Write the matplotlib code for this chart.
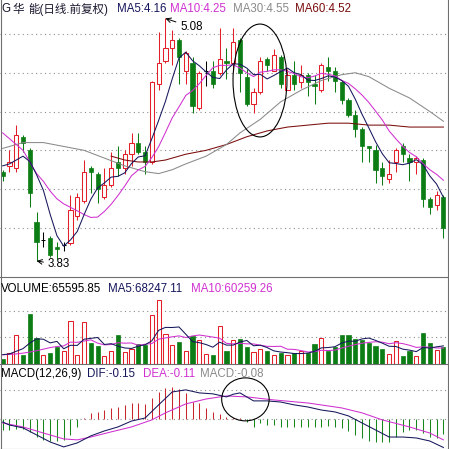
import numpy as np
import pandas as pd
import matplotlib
matplotlib.use("Agg")
import matplotlib.pyplot as plt
from matplotlib.patches import Rectangle, Ellipse
from matplotlib.lines import Line2D

plt.rcParams['font.family'] = ['Liberation Sans', 'Noto Sans CJK SC']

# daily bars, oldest first (qfq prices)
opens = [4.29, 4.32, 4.31, 4.47, 4.40, 4.03, 3.94, 3.95, 3.90, 3.91,
         3.92, 4.06, 4.14, 4.31, 4.28, 4.16, 4.22, 4.34, 4.31, 4.38,
         4.44, 4.39, 4.34, 4.74, 4.86, 4.93, 4.97, 4.81, 4.85, 4.62,
         4.81, 4.81, 4.80, 4.86, 4.85, 4.97, 4.78, 4.64, 4.70, 4.87,
         4.81, 4.88, 4.71, 4.79, 4.75, 4.79, 4.74, 4.71, 4.83, 4.81,
         4.75, 4.66, 4.58, 4.51, 4.42, 4.40, 4.31, 4.25, 4.34, 4.42,
         4.36, 4.34, 4.35, 4.15, 4.12, 4.16]
highs = [4.30, 4.40, 4.53, 4.48, 4.41, 4.08, 3.98, 3.96, 3.93, 3.93,
         4.17, 4.18, 4.35, 4.32, 4.29, 4.31, 4.39, 4.42, 4.40, 4.49,
         4.49, 4.42, 4.76, 5.01, 5.08, 5.02, 4.98, 4.91, 4.88, 4.81,
         4.86, 4.86, 5.03, 4.93, 5.03, 4.98, 4.82, 4.72, 4.88, 4.88,
         4.92, 4.89, 4.82, 4.86, 4.84, 4.80, 4.79, 4.85, 4.88, 4.83,
         4.76, 4.67, 4.61, 4.52, 4.42, 4.43, 4.34, 4.35, 4.41, 4.44,
         4.38, 4.37, 4.36, 4.16, 4.19, 4.17]
lows = [4.24, 4.29, 4.29, 4.39, 4.11, 3.83, 3.90, 3.85, 3.84, 3.88,
        3.91, 4.04, 4.13, 4.18, 4.13, 4.15, 4.21, 4.27, 4.28, 4.32,
        4.38, 4.28, 4.33, 4.71, 4.85, 4.84, 4.74, 4.74, 4.59, 4.61,
        4.73, 4.72, 4.79, 4.77, 4.81, 4.70, 4.63, 4.59, 4.69, 4.81,
        4.81, 4.72, 4.71, 4.71, 4.72, 4.68, 4.64, 4.70, 4.76, 4.70,
        4.64, 4.57, 4.47, 4.34, 4.34, 4.23, 4.22, 4.23, 4.29, 4.34,
        4.24, 4.28, 4.11, 4.07, 4.09, 3.95]
closes = [4.27, 4.34, 4.48, 4.44, 4.18, 3.93, 3.94, 3.86, 3.89, 3.91,
          4.09, 4.16, 4.29, 4.29, 4.20, 4.22, 4.31, 4.31, 4.38, 4.44,
          4.39, 4.34, 4.75, 4.85, 4.93, 4.97, 4.88, 4.90, 4.63, 4.80,
          4.81, 4.74, 4.87, 4.85, 4.96, 4.80, 4.64, 4.70, 4.86, 4.84,
          4.89, 4.74, 4.79, 4.74, 4.79, 4.75, 4.73, 4.84, 4.81, 4.76,
          4.66, 4.58, 4.51, 4.42, 4.41, 4.30, 4.27, 4.28, 4.40, 4.38,
          4.34, 4.36, 4.15, 4.11, 4.17, 4.00]
volumes = [20000, 41500, 110000, 35000, 189000, 98000, 35000, 41500, 63000, 50000,
           163000, 33000, 158000, 79000, 67000, 31000, 48000, 111000, 45000, 58000,
           75000, 73000, 186000, 243000, 113000, 73000, 83000, 50000, 104000, 92000,
           38000, 33000, 145000, 48000, 92000, 96000, 63000, 45000, 58000, 48000,
           33000, 41500, 33000, 41500, 48000, 41500, 75000, 98000, 48000, 63000,
           111000, 111000, 96000, 92000, 79000, 67000, 58300, 38000, 88000, 29000,
           48000, 30200, 116000, 78000, 51500, 65595.85]

# moving averages whose window reaches back before the first bar shown
ma5_head = [4.32, 4.33, 4.35, 4.37]
ma10_head = [4.49, 4.46, 4.43, 4.40, 4.34, 4.28, 4.24, 4.19, 4.15]
ma30_days = [0, 3, 6, 9, 12, 15, 18, 21, 23, 25, 27, 30, 33, 35, 38, 41, 44,
             47, 50, 52, 54, 57, 60, 63, 65]
ma30 = [4.41, 4.44, 4.44, 4.42, 4.40, 4.36, 4.32, 4.29, 4.28, 4.30, 4.33, 4.37,
        4.43, 4.49, 4.56, 4.65, 4.71, 4.76, 4.79, 4.80, 4.78, 4.72, 4.67, 4.60, 4.55]
ma60_days = [16, 18, 20, 22, 24, 27, 30, 33, 36, 39, 42, 45, 48, 51, 54, 57, 60, 63, 65]
ma60 = [4.37, 4.35, 4.34, 4.34, 4.35, 4.38, 4.40, 4.43, 4.47, 4.50, 4.52, 4.53,
        4.54, 4.54, 4.53, 4.53, 4.52, 4.52, 4.52]
vol_ma5_head = [35000, 38000, 48000, 58000]
vol_ma10_head = [35000, 36000, 38000, 41000, 45000, 50000, 56000, 62000, 66000]

# MACD(12,26,9)
dif_days = [0, 1, 3, 5, 7, 9, 11, 13, 15, 17, 19, 21, 23, 25, 27, 29, 31, 33, 34,
            35, 37, 39, 41, 43, 45, 47, 49, 51, 53, 55, 57, 59, 61, 63, 65]
dif = [-0.016, -0.032, -0.047, -0.084, -0.121, -0.147, -0.126, -0.089, -0.063,
       -0.042, -0.011, 0.005, 0.074, 0.142, 0.153, 0.137, 0.132, 0.116, 0.130,
       0.137, 0.095, 0.095, 0.089, 0.074, 0.063, 0.047, 0.037, 0.016, -0.021,
       -0.058, -0.095, -0.095, -0.100, -0.116, -0.150]
dea_days = [0, 3, 6, 9, 11, 13, 16, 19, 22, 24, 27, 30, 33, 36, 40, 45, 50, 53,
            56, 60, 63, 65]
dea = [-0.021, -0.042, -0.074, -0.105, -0.110, -0.095, -0.068, -0.042, -0.005,
       0.032, 0.079, 0.105, 0.121, 0.116, 0.100, 0.084, 0.058, 0.032, -0.005,
       -0.042, -0.074, -0.110]
macd_bar = [-0.058, -0.058, -0.053, -0.053, -0.068, -0.095, -0.110, -0.116, -0.116, -0.110,
            -0.084, -0.042, 0.003, 0.032, 0.037, 0.047, 0.058, 0.063, 0.074, 0.084,
            0.084, 0.079, 0.110, 0.142, 0.163, 0.168, 0.158, 0.137, 0.089, 0.084,
            0.058, 0.037, 0.026, 0.011, 0.005, 0.004, -0.016, -0.042, -0.021, -0.032,
            -0.032, -0.042, -0.042, -0.042, -0.042, -0.042, -0.042, -0.042, -0.037, -0.042,
            -0.047, -0.063, -0.084, -0.100, -0.116, -0.121, -0.121, -0.121, -0.095, -0.068,
            -0.058, -0.058, -0.074, -0.095, -0.100, -0.080]

UP = '#e3202a'
DOWN = '#0b7d14'
C5 = '#16165c'
C10 = '#d030d0'
C30 = '#8a8a8a'
C60 = '#7a0c0c'
GRID = '#8c8c8c'
BODY = 0.62
LW = 0.75

W = H = 449.0


def fx(px):
    return px / W


def fy(py):
    return 1 - py / H


days = np.arange(len(closes))
ma5 = pd.Series(closes).rolling(5).mean().to_numpy()
ma5[:4] = ma5_head
ma10 = pd.Series(closes).rolling(10).mean().to_numpy()
ma10[:9] = ma10_head
vma5 = pd.Series(volumes).rolling(5).mean().to_numpy()
vma5[:4] = vol_ma5_head
vma10 = pd.Series(volumes).rolling(10).mean().to_numpy()
vma10[:9] = vol_ma10_head

fig = plt.figure(figsize=(4.49, 4.49), dpi=100)
fig.patch.set_facecolor('white')

ax_k = fig.add_axes([0, fy(277), 448 / W, 277 / H])
ax_v = fig.add_axes([0, fy(364), 448 / W, 87 / H])
ax_m = fig.add_axes([0, 0, 448 / W, 85 / H])
for ax in (ax_k, ax_v, ax_m):
    ax.set_xlim(-0.398, 65.68)
    ax.axis('off')
ax_k.set_ylim(3.747, 5.175)
ax_v.set_ylim(0, 328000)
ax_m.set_ylim(-0.158, 0.289)

dots = (0, (1, 3))
for p in [4.0, 4.2, 4.4, 4.6, 4.8, 5.0]:
    ax_k.axhline(p, color=GRID, lw=0.8, ls=dots, zorder=0)
for v in [100000, 200000]:
    ax_v.axhline(v, color=GRID, lw=0.8, ls=dots, zorder=0)
for v in [0.0, 0.15]:
    ax_m.axhline(v, color=GRID, lw=0.8, ls=dots, zorder=0)

# candles
for i in days:
    o, h, l, c = opens[i], highs[i], lows[i], closes[i]
    if c > o:
        ax_k.vlines(i, c, h, color=UP, lw=LW, zorder=2)
        ax_k.vlines(i, l, o, color=UP, lw=LW, zorder=2)
        ax_k.add_patch(Rectangle((i - BODY / 2, o), BODY, c - o, facecolor='white',
                                 edgecolor=UP, lw=LW, zorder=2))
    elif c < o:
        ax_k.vlines(i, l, h, color=DOWN, lw=LW, zorder=2)
        ax_k.add_patch(Rectangle((i - BODY / 2, c), BODY, o - c, facecolor=DOWN,
                                 edgecolor=DOWN, lw=0.5, zorder=2))
    else:
        ax_k.vlines(i, l, h, color='black', lw=LW, zorder=2)
        ax_k.hlines(c, i - BODY / 2, i + BODY / 2, color='black', lw=LW, zorder=2)

ax_k.plot(ma60_days, ma60, color=C60, lw=LW, zorder=3)
ax_k.plot(ma30_days, ma30, color=C30, lw=LW, zorder=3)
ax_k.plot(days, ma10, color=C10, lw=LW, zorder=3)
ax_k.plot(days, ma5, color=C5, lw=LW, zorder=3)

ax_k.add_patch(Ellipse((37.95, 4.76), 7.96, 0.582, fill=False, edgecolor='black',
                       lw=0.8, zorder=4))

hi_day = int(np.argmax(highs))
lo_day = int(np.argmin(lows))
ax_k.annotate(f'{highs[hi_day]:.2f}', xy=(hi_day, highs[hi_day]),
              xytext=(180, H - 30.5), textcoords='figure pixels', va='baseline',
              fontsize=8.3, color='black',
              arrowprops=dict(arrowstyle='->', color='black', lw=0.7,
                              shrinkA=1, shrinkB=0, relpos=(0, 0.85)))
ax_k.annotate(f'{lows[lo_day]:.2f}', xy=(lo_day, lows[lo_day]),
              xytext=(47.5, H - 267), textcoords='figure pixels', va='baseline',
              fontsize=8.3, color='black',
              arrowprops=dict(arrowstyle='->', color='black', lw=0.7,
                              shrinkA=1, shrinkB=0, relpos=(0, 0.6)))

# volume
for i in days:
    if closes[i] >= opens[i]:
        ax_v.add_patch(Rectangle((i - BODY / 2, 0), BODY, volumes[i], facecolor='white',
                                 edgecolor=UP, lw=LW, zorder=2))
    else:
        ax_v.add_patch(Rectangle((i - BODY / 2, 0), BODY, volumes[i], facecolor=DOWN,
                                 edgecolor=DOWN, lw=0.5, zorder=2))
ax_v.plot(days, vma10, color=C10, lw=LW, zorder=3)
ax_v.plot(days, vma5, color=C5, lw=LW, zorder=3)

# macd
for i in days:
    col = '#c8262c' if macd_bar[i] >= 0 else '#17861d'
    ax_m.vlines(i, 0, macd_bar[i], color=col, lw=LW, zorder=2)
ax_m.plot(dea_days, dea, color=C10, lw=LW, zorder=3)
ax_m.plot(dif_days, dif, color=C5, lw=LW, zorder=3)
ax_m.add_patch(Ellipse((35.8, 0.103), 7.0, 0.226, fill=False, edgecolor='black',
                       lw=0.8, zorder=4))

# frame and panel separators
frame = '#6e6e6e'
for x0, y0, x1, y1 in [(0.5, 0, 0.5, 449), (447.5, 0, 447.5, 449),
                       (0, 277, 448, 277), (0, 364, 448, 364), (0, 448.5, 448, 448.5)]:
    fig.add_artist(Line2D([fx(x0), fx(x1)], [fy(y0), fy(y1)], color=frame, lw=0.8))


def label(px, py, s, color):
    fig.text(fx(px), fy(py), s, color=color, fontsize=8.3, va='baseline', ha='left')


label(1.5, 12.5, 'G', '#1a1a30')
label(12, 12.5, '华', '#1a1a30')
label(28, 12.5, '能(日线.前复权)', '#1a1a30')
label(117, 12.5, f'MA5:{ma5[-1]:.2f}', C5)
label(170, 12.5, f'MA10:{ma10[-1]:.2f}', C10)
label(233, 12.5, f'MA30:{ma30[-1]:.2f}', C30)
label(295, 12.5, f'MA60:{ma60[-1]:.2f}', C60)

label(0.5, 291.5, f'VOLUME:{volumes[-1]:.2f}', 'black')
label(108, 291.5, 'MA5:68247.11', C5)
label(191.5, 291.5, 'MA10:60259.26', C10)

label(0.5, 377, 'MACD(12,26,9)', 'black')
label(87, 377, f'DIF:{dif[-1]:.2f}', C5)
label(143, 377, f'DEA:{dea[-1]:.2f}', C10)
label(200, 377, f'MACD:{macd_bar[-1]:.2f}', C30)

fig.savefig('out.png', dpi=100)
